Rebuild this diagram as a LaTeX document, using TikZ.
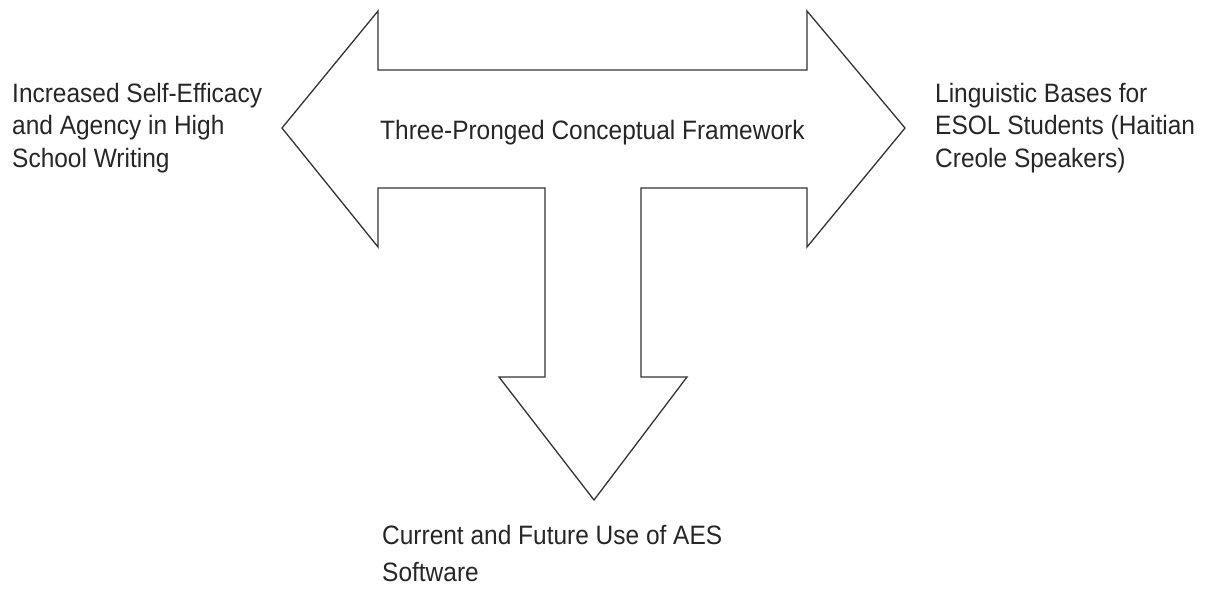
\documentclass[tikz,border=0pt]{standalone}
\usepackage{fontspec}
\setmainfont[FakeStretch=0.92]{Liberation Sans}
\usepackage{tikz}

\begin{document}
\begin{tikzpicture}[x=1pt, y=-1pt,
    label text/.style={anchor=base west, inner sep=0pt, align=left, text=black!85, font=\fontsize{26.6}{32.5}\selectfont},
    prong/.style={draw=black!80, line width=1.3pt, line join=miter}]
    \useasboundingbox (0,0) rectangle (1219,590);
    \draw[prong] (378,11) -- (378,70) -- (807,70) -- (807,11) -- (905,128) -- (807,247) -- (807,188) -- (641,188) -- (641,377) -- (687,377) -- (594,500) -- (499,377) -- (545,377) -- (545,188) -- (378,188) -- (378,247) -- (282,128) -- cycle;

    \node[label text] (framework) at (380,139) {Three-Pronged Conceptual Framework};
    \node[label text] (self efficacy) at (12,167) {Increased Self-Efficacy\\and Agency in High\\School Writing};
    \node[label text] (linguistic bases) at (935,167) {Linguistic Bases for\\ESOL Students (Haitian\\Creole Speakers)};
    \node[label text, font=\fontsize{26.6}{37}\selectfont] (aes software) at (382,581) {Current and Future Use of AES\\Software};
\end{tikzpicture}
\end{document}
